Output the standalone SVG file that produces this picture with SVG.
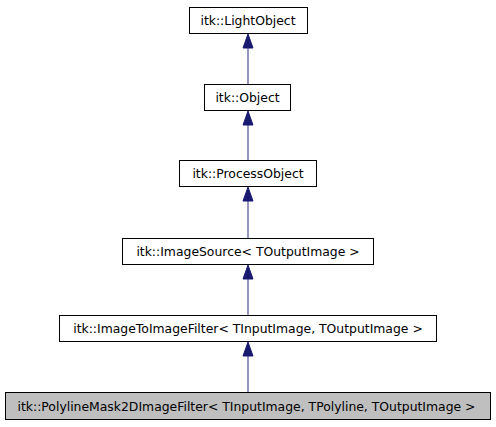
<svg xmlns="http://www.w3.org/2000/svg" width="496" height="427" viewBox="0 0 496 427">
<defs>
<style>
.n rect{fill:#ffffff;stroke:#000000;stroke-width:1}
.n.cur rect{fill:#bfbfbf}
.n text{font-family:"DejaVu Sans",sans-serif;font-size:12.4px;fill:#000000;text-anchor:middle}
.e line{stroke:#4f4f9a;stroke-width:1.2}
.e polygon{fill:#191970;stroke:#191970;stroke-width:1}
</style>
</defs>
<rect width="496" height="427" fill="#ffffff"/>
<g class="e" id="edges">
<line x1="248" y1="84.5" x2="248" y2="47"/><polygon points="248,34 243,48 253,48"/>
<line x1="248" y1="160.5" x2="248" y2="124"/><polygon points="248,111 243,125 253,125"/>
<line x1="248" y1="238.5" x2="248" y2="201"/><polygon points="248,187 243,201 253,201"/>
<line x1="248" y1="315.5" x2="248" y2="278"/><polygon points="248,265 243,279 253,279"/>
<line x1="248" y1="392.5" x2="248" y2="355"/><polygon points="248,342 243,356 253,356"/>
</g>
<g class="n" id="LightObject"><rect x="189.5" y="7.5" width="118" height="26"/><text x="248" y="25">itk::LightObject</text></g>
<g class="n" id="Object"><rect x="204.5" y="84.5" width="86" height="26"/><text x="247.5" y="102">itk::Object</text></g>
<g class="n" id="ProcessObject"><rect x="179.5" y="160.5" width="137" height="26"/><text x="248" y="178">itk::ProcessObject</text></g>
<g class="n" id="ImageSource"><rect x="122.5" y="238.5" width="251" height="26"/><text x="248" y="256">itk::ImageSource&lt; TOutputImage &gt;</text></g>
<g class="n" id="ImageToImageFilter"><rect x="59.5" y="315.5" width="377" height="26"/><text x="248" y="333">itk::ImageToImageFilter&lt; TInputImage, TOutputImage &gt;</text></g>
<g class="n cur" id="PolylineMask2DImageFilter"><rect x="5.5" y="392.5" width="485" height="27"/><text x="246.5" y="411">itk::PolylineMask2DImageFilter&lt; TInputImage, TPolyline, TOutputImage &gt;</text></g>
</svg>
